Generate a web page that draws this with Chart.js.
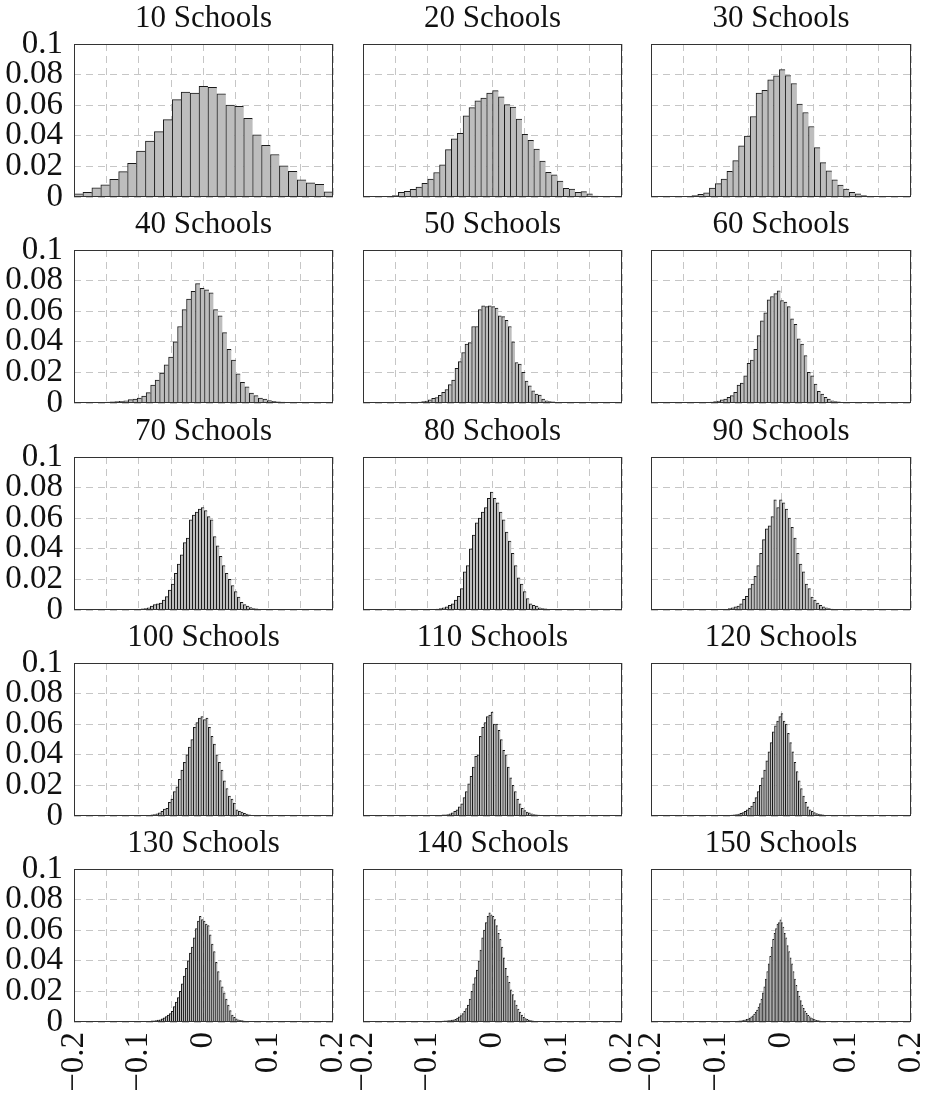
<!DOCTYPE html>
<html>
<head>
<meta charset="utf-8">
<script src="https://cdn.jsdelivr.net/npm/chart.js@4.4.1/dist/chart.umd.min.js"></script>
<style>
  html, body { margin: 0; padding: 0; background: #fff; }
  #page { position: relative; width: 928px; height: 1098px; overflow: hidden; }
  #page canvas { position: absolute; }
</style>
</head>
<body>
<div id="page"></div>
<script>
const schools = [10, 20, 30, 40, 50, 60, 70, 80, 90, 100, 110, 120, 130, 140, 150];

// histogram range (left edge of first bin, right edge of last bin) per panel
const binLo = [-0.2, -0.191, -0.155, -0.1856, -0.1403, -0.1346, -0.1238, -0.1099, -0.0986, -0.1006, -0.1032, -0.1, -0.09, -0.086, -0.078];
const binHi = [0.2, 0.173, 0.15, 0.1748, 0.1274, 0.1331, 0.0939, 0.0939, 0.0896, 0.0847, 0.0806, 0.08, 0.0743, 0.072, 0.07];

const h10 = [0.002, 0.003, 0.006, 0.008, 0.0116, 0.0166, 0.022, 0.03, 0.0366, 0.0427, 0.0506, 0.0636, 0.0685, 0.068, 0.0724,
  0.0716, 0.0675, 0.06, 0.0593, 0.0515, 0.0407, 0.0338, 0.0278, 0.0203, 0.0168, 0.0112, 0.0093, 0.0082, 0.0034];
const h20 = [0.0002, 0.0002, 0.0003, 0.0005, 0.001, 0.003, 0.0037, 0.005, 0.0065, 0.009, 0.0117, 0.016, 0.021, 0.031, 0.038,
  0.0416, 0.053, 0.0584, 0.0628, 0.0647, 0.068, 0.0695, 0.0654, 0.0604, 0.0587, 0.051, 0.0409, 0.037, 0.0314, 0.0234,
  0.0162, 0.0145, 0.0104, 0.0056, 0.0052, 0.003, 0.0035, 0.002, 0.0006, 0.0004];
const h30 = [0.0002, 0.0005, 0.001, 0.0017, 0.0028, 0.0058, 0.0087, 0.0117, 0.0167, 0.0238, 0.0335, 0.0398, 0.0526, 0.068,
  0.0697, 0.0766, 0.0792, 0.0833, 0.0794, 0.0742, 0.0608, 0.0552, 0.0461, 0.0323, 0.0225, 0.0171, 0.0113, 0.0078, 0.0052,
  0.003, 0.002, 0.001, 0.0005, 0.0002];
const h40 = [0.0002, 0.0002, 0.0003, 0.0004, 0.0005, 0.0006, 0.0008, 0.0009, 0.0011, 0.0015, 0.0022, 0.0026, 0.0032, 0.0045,
  0.0068, 0.0117, 0.015, 0.0195, 0.025, 0.03, 0.04, 0.05, 0.061, 0.068, 0.073, 0.078, 0.075, 0.074, 0.072, 0.061, 0.057,
  0.046, 0.035, 0.028, 0.019, 0.0135, 0.0105, 0.0065, 0.0048, 0.0032, 0.0026, 0.0016, 0.0011, 0.0008, 0.0006, 0.0005,
  0.0004, 0.0003, 0.0003, 0.0002, 0.0002, 0.0001];
const h50 = [0.0002, 0.0002, 0.0003, 0.0003, 0.0004, 0.0006, 0.001, 0.0013, 0.002, 0.003, 0.0036, 0.005, 0.007, 0.0088,
  0.012, 0.015, 0.0226, 0.027, 0.033, 0.0385, 0.0395, 0.05, 0.05, 0.061, 0.0635, 0.063, 0.0635, 0.063, 0.062, 0.057, 0.0565,
  0.054, 0.05, 0.04, 0.0265, 0.0254, 0.02, 0.0143, 0.0113, 0.008, 0.0059, 0.0052, 0.0026, 0.0015, 0.001, 0.0007, 0.0005,
  0.0004, 0.0003, 0.0002, 0.0002, 0.0001];
const h60 = [0.0002, 0.0002, 0.0003, 0.0003, 0.0004, 0.0006, 0.001, 0.0013, 0.002, 0.0026, 0.0037, 0.0048, 0.007, 0.0117,
  0.013, 0.0178, 0.026, 0.028, 0.035, 0.044, 0.0537, 0.059, 0.0674, 0.0696, 0.0715, 0.0733, 0.067, 0.066, 0.063, 0.055,
  0.0515, 0.042, 0.0385, 0.031, 0.02, 0.0178, 0.0124, 0.0076, 0.0059, 0.0037, 0.0026, 0.0015, 0.001, 0.0007, 0.0005,
  0.0004, 0.0003, 0.0002, 0.0002, 0.0002, 0.0001, 0.0001];
const h70 = [0.0001, 0.0001, 0.0002, 0.0002, 0.0003, 0.0005, 0.0007, 0.001, 0.0015, 0.0025, 0.0035, 0.004, 0.0045, 0.0065,
  0.0087, 0.013, 0.017, 0.024, 0.03, 0.036, 0.044, 0.047, 0.059, 0.062, 0.064, 0.066, 0.067, 0.065, 0.061, 0.059, 0.048,
  0.042, 0.035, 0.029, 0.024, 0.02, 0.016, 0.012, 0.0085, 0.005, 0.0035, 0.0025, 0.0016, 0.001, 0.0007, 0.0004, 0.0002];
const h80 = [0.0001, 0.0001, 0.0002, 0.0002, 0.0004, 0.0006, 0.001, 0.0015, 0.002, 0.003, 0.004, 0.0065, 0.009, 0.014,
  0.025, 0.029, 0.04, 0.049, 0.057, 0.06, 0.064, 0.067, 0.073, 0.077, 0.073, 0.07, 0.064, 0.059, 0.051, 0.045, 0.037,
  0.029, 0.021, 0.017, 0.012, 0.0075, 0.004, 0.003, 0.0025, 0.0015, 0.001, 0.0007, 0.0004, 0.0002];
const h90 = [0.0001, 0.0002, 0.0003, 0.0005, 0.001, 0.0015, 0.002, 0.0025, 0.004, 0.007, 0.009, 0.014, 0.017, 0.022, 0.029,
  0.037, 0.046, 0.053, 0.055, 0.061, 0.072, 0.067, 0.072, 0.07, 0.066, 0.06, 0.054, 0.047, 0.037, 0.03, 0.025, 0.017,
  0.014, 0.0085, 0.0065, 0.0045, 0.003, 0.002, 0.0015, 0.001, 0.0006, 0.0004, 0.0002];
const h100 = [0.0002, 0.0002, 0.0003, 0.0004, 0.0005, 0.0007, 0.001, 0.0015, 0.002, 0.003, 0.0045, 0.005, 0.009, 0.011,
  0.016, 0.019, 0.024, 0.03, 0.035, 0.04, 0.045, 0.05, 0.058, 0.061, 0.064, 0.065, 0.063, 0.064, 0.058, 0.052, 0.047,
  0.04, 0.035, 0.03, 0.023, 0.018, 0.013, 0.011, 0.0085, 0.004, 0.003, 0.0025, 0.0018, 0.0012, 0.0008, 0.0005, 0.0003, 0.0002];
const h110 = [0.0001, 0.0001, 0.0002, 0.0002, 0.0003, 0.0004, 0.0005, 0.0007, 0.0008, 0.001, 0.0015, 0.002, 0.003, 0.004,
  0.006, 0.008, 0.012, 0.016, 0.021, 0.026, 0.032, 0.039, 0.04, 0.052, 0.058, 0.061, 0.065, 0.066, 0.068, 0.06, 0.06,
  0.056, 0.05, 0.043, 0.04, 0.032, 0.025, 0.02, 0.016, 0.011, 0.008, 0.005, 0.0035, 0.0025, 0.002, 0.0015, 0.001, 0.0008,
  0.0006, 0.0004, 0.0002];
const h120 = [0.0001, 0.0001, 0.0002, 0.0002, 0.0003, 0.0004, 0.0005, 0.0006, 0.0008, 0.001, 0.0013, 0.0017, 0.0022, 0.003,
  0.004, 0.005, 0.0065, 0.009, 0.012, 0.016, 0.02, 0.025, 0.03, 0.036, 0.042, 0.048, 0.055, 0.059, 0.062, 0.065, 0.067,
  0.062, 0.06, 0.054, 0.048, 0.042, 0.035, 0.029, 0.023, 0.018, 0.013, 0.009, 0.006, 0.004, 0.003, 0.0022, 0.0016, 0.0012,
  0.0009, 0.0007, 0.0005, 0.0003, 0.0002, 0.0001];
const h130 = [0.0002, 0.0003, 0.0005, 0.0007, 0.0008, 0.001, 0.0012, 0.0015, 0.002, 0.0028, 0.0035, 0.0045, 0.0055, 0.007,
  0.01, 0.013, 0.016, 0.02, 0.025, 0.03, 0.035, 0.04, 0.045, 0.049, 0.055, 0.061, 0.066, 0.069, 0.067, 0.066, 0.064, 0.063,
  0.057, 0.051, 0.046, 0.039, 0.033, 0.027, 0.023, 0.019, 0.015, 0.011, 0.0075, 0.0045, 0.003, 0.002, 0.0015, 0.0011,
  0.0009, 0.0006, 0.0004, 0.0003, 0.0002];
const h140 = [0.0002, 0.0003, 0.0005, 0.0006, 0.0007, 0.0008, 0.0009, 0.001, 0.0012, 0.0014, 0.0017, 0.0025, 0.0033, 0.0042,
  0.0055, 0.007, 0.0088, 0.011, 0.015, 0.02, 0.025, 0.029, 0.034, 0.04, 0.047, 0.055, 0.06, 0.065, 0.069, 0.0714, 0.07,
  0.069, 0.067, 0.063, 0.058, 0.054, 0.049, 0.042, 0.035, 0.03, 0.026, 0.021, 0.018, 0.014, 0.011, 0.0085, 0.0065, 0.0045,
  0.003, 0.0023, 0.0017, 0.0013, 0.001, 0.0008, 0.0005, 0.0003, 0.0002];
const h150 = [0.0002, 0.0003, 0.0004, 0.0004, 0.0005, 0.0006, 0.0007, 0.0008, 0.001, 0.0012, 0.0014, 0.0017, 0.002, 0.0026,
  0.0033, 0.0041, 0.0052, 0.0063, 0.0078, 0.0098, 0.012, 0.015, 0.019, 0.023, 0.028, 0.033, 0.038, 0.043, 0.049, 0.054,
  0.058, 0.061, 0.064, 0.065, 0.0667, 0.065, 0.062, 0.058, 0.055, 0.05, 0.046, 0.042, 0.038, 0.033, 0.028, 0.024, 0.02,
  0.017, 0.014, 0.011, 0.009, 0.0072, 0.0057, 0.0044, 0.0035, 0.0028, 0.0022, 0.0017, 0.0014, 0.0011, 0.0009, 0.0007,
  0.0005, 0.0004, 0.0003, 0.0002];

const heights = [h10, h20, h30, h40, h50, h60, h70, h80, h90, h100, h110, h120, h130, h140, h150];

// panel geometry (plot area, page pixels)
const colLeft = [74, 363, 651];
const colWidth = [259, 259, 260];
const rowTop = [44, 250, 457, 663, 869];
const plotH = 153;
const yAxisW = 74;
const titleH = 44;
const padRight = 17;

const FONT = "'Liberation Serif', 'Times New Roman', 'DejaVu Serif', serif";

const boxPlugin = {
  id: "box",
  afterDatasetsDraw(chart) {
    const { ctx, chartArea: a } = chart;
    ctx.save();
    ctx.strokeStyle = "#333";
    ctx.lineWidth = 1;
    ctx.strokeRect(a.left + 0.5, a.top + 0.5, a.right - a.left - 1, a.bottom - a.top - 1);
    ctx.restore();
  },
};

const xLabel = (v) => {
  const t = Math.round(v * 10) / 10;
  if (Math.abs(v - t) > 1e-9) return "";
  if (t === 0) return "0";
  return t < 0 ? "\u2212" + String(-t) : String(t);
};

const page = document.getElementById("page");

schools.forEach((n, i) => {
  const r = Math.floor(i / 3);
  const c = i % 3;
  const bottomRow = r === 4;
  const xh = bottomRow ? 1098 - (rowTop[r] + plotH) : 16;
  const W = yAxisW + colWidth[c] + padRight;
  const H = titleH + plotH + xh;

  const cv = document.createElement("canvas");
  cv.width = W;
  cv.height = H;
  cv.style.left = colLeft[c] - yAxisW + "px";
  cv.style.top = rowTop[r] - titleH + "px";
  cv.style.width = W + "px";
  cv.style.height = H + "px";
  page.appendChild(cv);

  const hs = heights[i];
  const w = (binHi[i] - binLo[i]) / hs.length;
  const pts = hs.map((y, k) => ({ x: binLo[i] + (k + 0.5) * w, y }));

  new Chart(cv, {
    type: "bar",
    data: {
      datasets: [
        {
          data: pts,
          backgroundColor: "#bdbdbd",
          borderColor: "#1a1a1a",
          borderWidth: { left: 1, top: 1, right: 0, bottom: 0 },
          borderSkipped: "start",
          barPercentage: 1,
          categoryPercentage: 1,
        },
      ],
    },
    options: {
      responsive: false,
      animation: false,
      devicePixelRatio: 1,
      layout: { padding: { top: 0, right: padRight, bottom: 0, left: 0 } },
      plugins: {
        legend: { display: false },
        tooltip: { enabled: false },
        title: {
          display: true,
          fullSize: false,
          align: "center",
          text: n + " Schools",
          color: "#111",
          font: { family: FONT, size: 31, weight: "normal", lineHeight: 1.2 },
          padding: { top: 0, bottom: titleH - 31 * 1.2 },
        },
      },
      scales: {
        x: {
          type: "linear",
          min: -0.2,
          max: 0.2,
          offset: false,
          grid: { color: "#c6c6c6", lineWidth: 1, drawTicks: false, offset: false },
          border: { display: false, dash: [7, 5] },
          ticks: {
            display: bottomRow,
            stepSize: 0.05,
            autoSkip: false,
            minRotation: 90,
            maxRotation: 90,
            padding: 10,
            color: "#111",
            font: { family: FONT, size: 33 },
            callback: xLabel,
          },
          afterFit: (s) => {
            s.height = xh;
            s.paddingLeft = 0;
            s.paddingRight = 0;
          },
        },
        y: {
          min: 0,
          max: 0.1,
          grid: { color: "#c6c6c6", lineWidth: 1, drawTicks: false },
          border: { display: false, dash: [7, 5] },
          ticks: {
            display: c === 0,
            stepSize: 0.02,
            autoSkip: false,
            padding: 11,
            color: "#111",
            font: { family: FONT, size: 33 },
            callback: (v) => String(Math.round(v * 100) / 100),
          },
          afterFit: (s) => {
            s.width = yAxisW;
            s.paddingTop = 0;
            s.paddingBottom = 0;
          },
        },
      },
    },
    plugins: [boxPlugin],
  });
});
</script>
</body>
</html>
